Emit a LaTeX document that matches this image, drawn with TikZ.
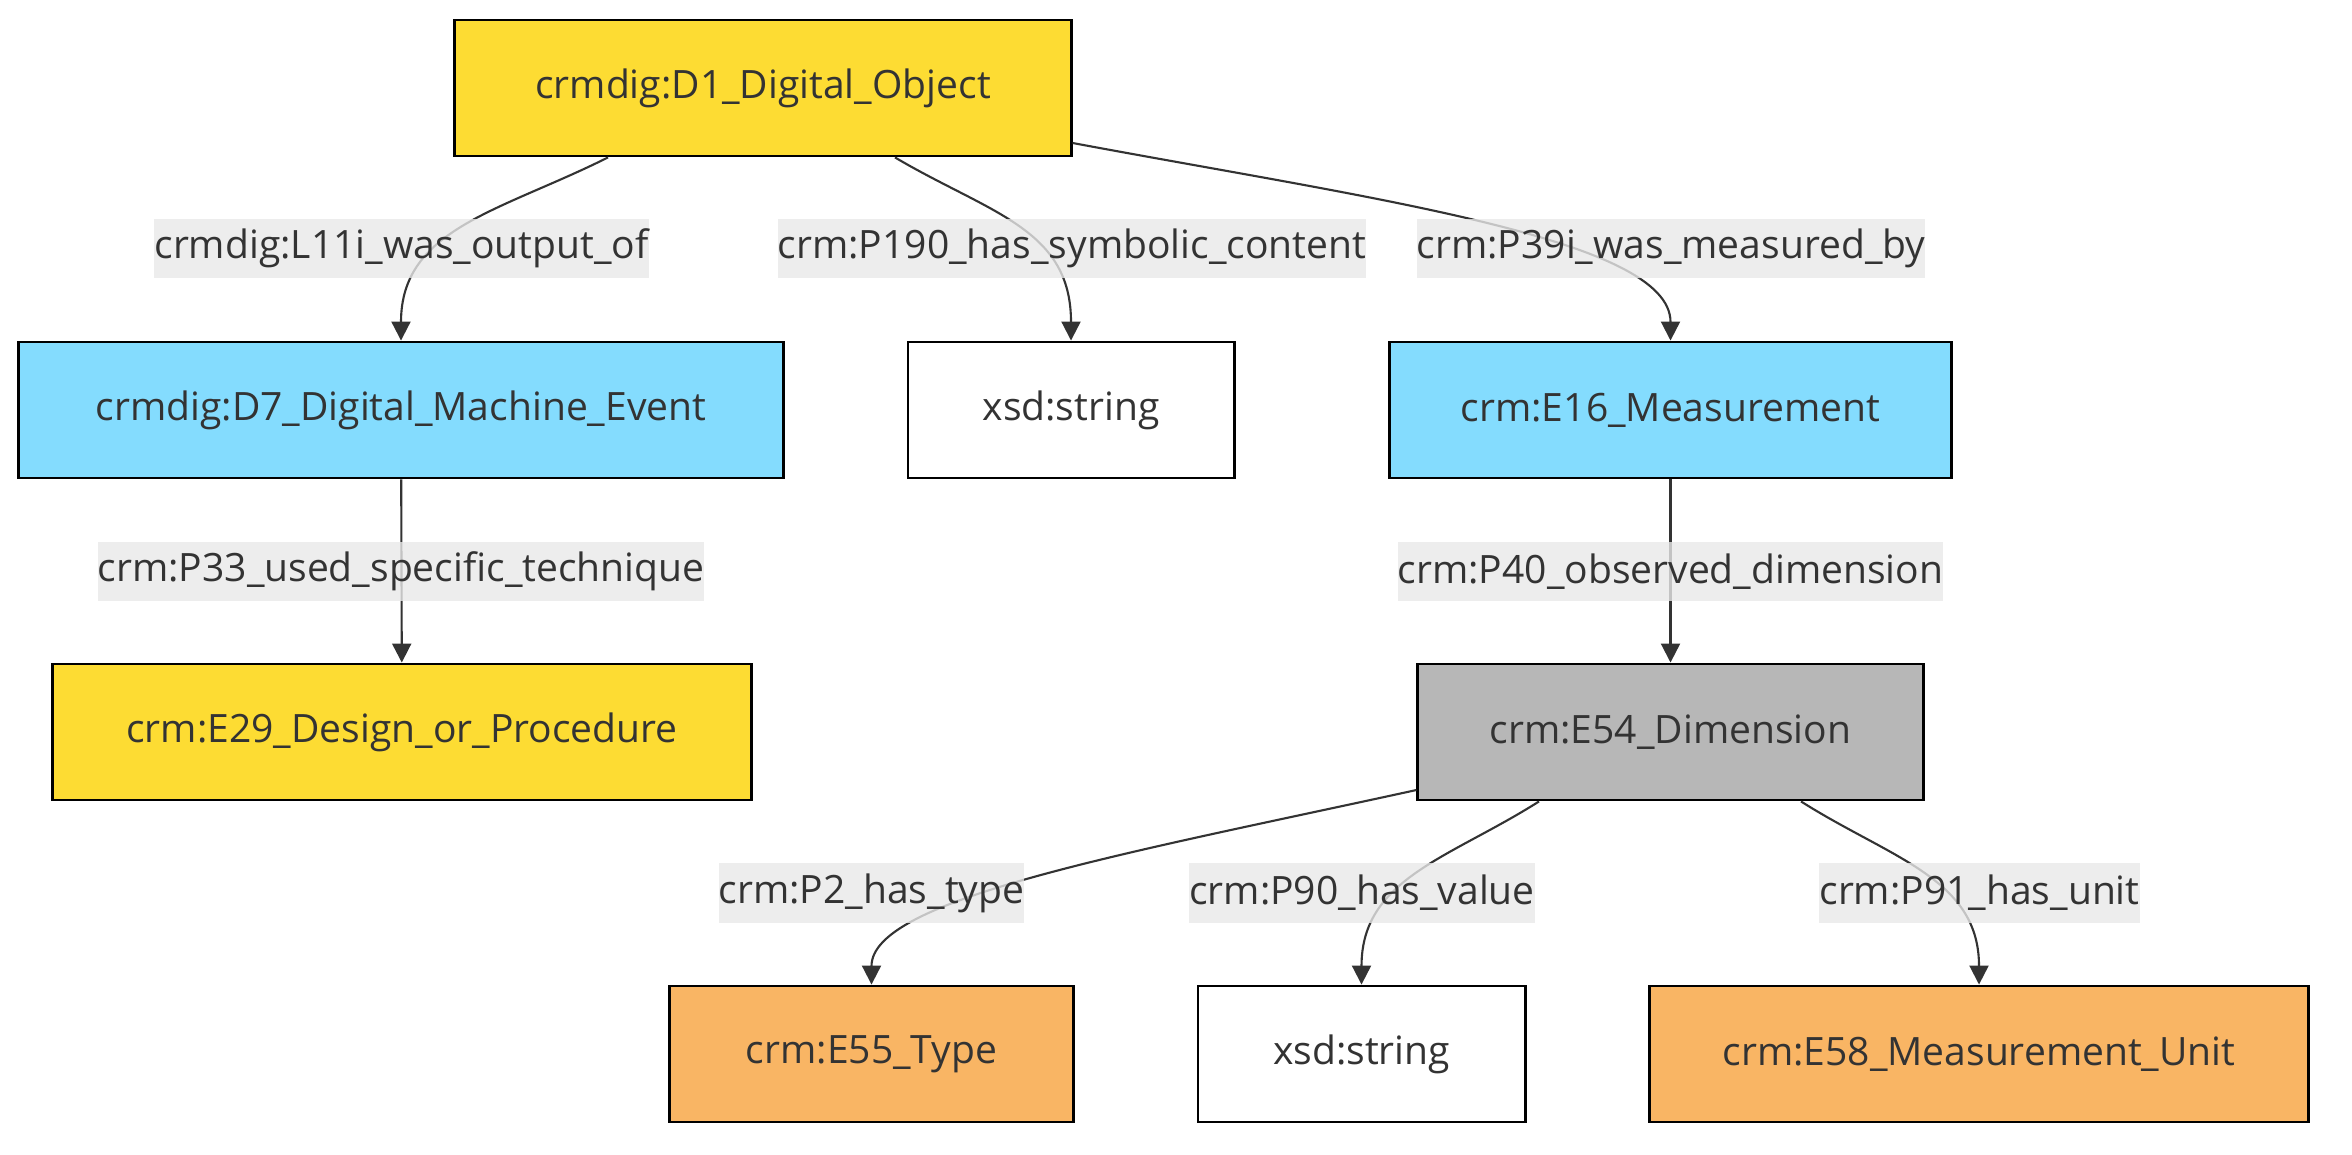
\documentclass[tikz,border=0pt]{standalone}
\usepackage{fontspec}
\setmainfont{Open Sans}
\usepackage{tikz}
\usetikzlibrary{arrows.meta}
\usetikzlibrary{calc}

\definecolor{txtgray}{HTML}{333333}
\definecolor{linegray}{HTML}{333333}
\definecolor{lblgray}{HTML}{E8E8E8}
\definecolor{crmyellow}{HTML}{FDDC33}
\definecolor{crmblue}{HTML}{84DCFE}
\definecolor{crmorange}{HTML}{F9B564}
\definecolor{crmgray}{HTML}{B7B7B7}

\begin{document}
\begin{tikzpicture}[x=0.01cm, y=-0.01cm, >={Triangle[length=0.19cm,width=0.19cm]},
    cls/.style={draw=black, line width=0.8pt, minimum height=1.36cm, inner sep=0pt,
        text=txtgray, font=\fontsize{11.1pt}{14pt}\selectfont},
    lbl/.style={fill=lblgray, fill opacity=0.8, text opacity=1, text=txtgray,
        minimum height=0.59cm, inner xsep=0pt, inner ysep=0pt,
        font=\fontsize{11.1pt}{14pt}\selectfont},
    edge/.style={draw=linegray, line width=0.6pt, ->}]
        \useasboundingbox (0,0) rectangle (2352,1155);
        % classes
        \node[cls, fill=crmyellow, minimum width=6.16cm] (d1) at (763,88) {crmdig:D1\_Digital\_Object};
        \node[cls, fill=crmblue, minimum width=7.64cm] (d7) at (401,410) {crmdig:D7\_Digital\_Machine\_Event};
        \node[cls, fill=white, minimum width=3.26cm] (str1) at (1071,410) {xsd:string};
        \node[cls, fill=crmblue, minimum width=5.61cm] (e16) at (1670.5,410) {crm:E16\_Measurement};
        \node[cls, fill=crmyellow, minimum width=6.98cm] (e29) at (402,732) {crm:E29\_Design\_or\_Procedure};
        \node[cls, fill=crmgray, minimum width=5.05cm] (e54) at (1670.5,732) {crm:E54\_Dimension};
        \node[cls, fill=crmorange, minimum width=4.03cm] (e55) at (871.5,1054) {crm:E55\_Type};
        \node[cls, fill=white, minimum width=3.27cm] (str2) at (1361.5,1054) {xsd:string};
        \node[cls, fill=crmorange, minimum width=6.58cm] (e58) at (1979,1054) {crm:E58\_Measurement\_Unit};
        % properties
        \draw[edge] ($(d1.south)+(-155,0)$) .. controls +(-108,54) and +(0,-112) .. (d7.north);
        \draw[edge] ($(d1.south)+(132,0)$) .. controls +(95,56) and +(0,-112) .. (str1.north);
        \draw[edge] ($(d1.east)+(0,55)$) .. controls +(300,56) and +(0,-102) .. (e16.north);
        \draw[edge] (d7) -- (e29);
        \draw[edge] (e16) -- (e54);
        \draw[edge] ($(e54.west)+(0,58)$) .. controls +(-288,63) and +(0,-86) .. (e55.north);
        \draw[edge] ($(e54.south)+(-131.5,0)$) .. controls +(-90,57) and +(0,-106) .. (str2.north);
        \draw[edge] ($(e54.south)+(130.5,0)$) .. controls +(90,57) and +(0,-106) .. (e58.north);
        % property labels
        \node[lbl] (l11i) at (401.5,248.5) {crmdig:L11i\_was\_output\_of};
        \node[lbl] (p190) at (1072,248.5) {crm:P190\_has\_symbolic\_content};
        \node[lbl] (p39i) at (1671,248.5) {crm:P39i\_was\_measured\_by};
        \node[lbl] (p33) at (401,571.5) {crm:P33\_used\_specific\_technique};
        \node[lbl] (p40) at (1670.5,571.5) {crm:P40\_observed\_dimension};
        \node[lbl] (p2) at (871.5,893) {crm:P2\_has\_type};
        \node[lbl] (p90) at (1362,893) {crm:P90\_has\_value};
        \node[lbl] (p91) at (1979.5,893) {crm:P91\_has\_unit};
\end{tikzpicture}
\end{document}
